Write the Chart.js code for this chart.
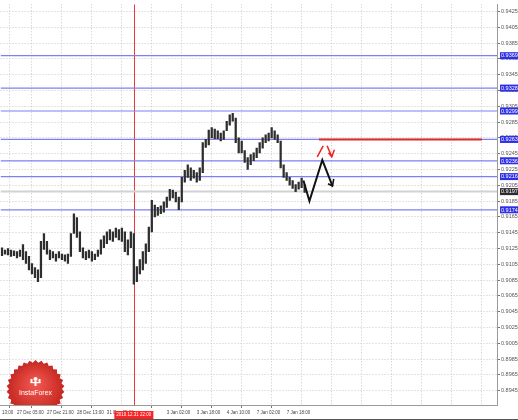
<!DOCTYPE html>
<html><head><meta charset="utf-8">
<script src="https://cdn.jsdelivr.net/npm/chart.js@4"></script>
<style>html,body{margin:0;padding:0;background:#fff;}#wrap{width:518px;height:420px;position:relative;}</style>
</head><body><div id="wrap"><canvas id="c" width="518" height="420"></canvas></div>
<script>
// ---- data ----
const HIGHS = [0.9126,0.9123,0.9125,0.9123,0.9122,0.9121,0.9123,0.9130,0.9121,0.9115,
0.9106,0.9101,0.9098,0.9134,0.9144,0.9134,0.9123,0.9121,0.9118,0.9121,
0.9118,0.9117,0.9118,0.9144,0.9169,0.9164,0.9146,0.9126,0.9121,0.9123,
0.9121,0.9118,0.9123,0.9136,0.9141,0.9146,0.9149,0.9146,0.9151,0.9149,
0.9151,0.9146,0.9136,0.9146,0.9144,0.9102,0.9111,0.9121,0.9131,0.9152,
0.9186,0.9180,0.9177,0.9179,0.9184,0.9190,0.9200,0.9199,0.9196,0.9190,
0.9215,0.9224,0.9231,0.9227,0.9224,0.9221,0.9227,0.9259,0.9263,0.9275,
0.9278,0.9276,0.9274,0.9271,0.9274,0.9286,0.9294,0.9296,0.9290,0.9265,
0.9261,0.9249,0.9240,0.9244,0.9246,0.9252,0.9259,0.9265,0.9269,0.9271,
0.9278,0.9274,0.9269,0.9261,0.9231,0.9221,0.9215,0.9211,0.9206,0.9209,
0.9214,0.9206];
const LOWS = [0.9116,0.9118,0.9117,0.9115,0.9116,0.9113,0.9115,0.9111,0.9106,0.9098,
0.9093,0.9088,0.9083,0.9088,0.9124,0.9118,0.9111,0.9113,0.9109,0.9113,
0.9111,0.9109,0.9106,0.9115,0.9144,0.9139,0.9121,0.9113,0.9111,0.9113,
0.9109,0.9111,0.9115,0.9118,0.9126,0.9131,0.9136,0.9134,0.9139,0.9136,
0.9134,0.9121,0.9117,0.9126,0.9080,0.9083,0.9093,0.9098,0.9106,0.9121,
0.9146,0.9165,0.9167,0.9169,0.9171,0.9177,0.9186,0.9189,0.9184,0.9174,
0.9184,0.9209,0.9215,0.9211,0.9214,0.9209,0.9211,0.9221,0.9253,0.9256,
0.9265,0.9264,0.9264,0.9261,0.9263,0.9274,0.9281,0.9286,0.9259,0.9246,
0.9246,0.9234,0.9225,0.9231,0.9236,0.9240,0.9246,0.9252,0.9259,0.9261,
0.9265,0.9263,0.9259,0.9227,0.9215,0.9211,0.9205,0.9201,0.9197,0.9200,
0.9202,0.9196];

const Y_TICKS = [0.9425,0.9405,0.9385,0.9365,0.9345,0.9325,0.9305,0.9285,0.9265,0.9245,
0.9225,0.9205,0.9185,0.9165,0.9145,0.9125,0.9105,0.9085,0.9065,0.9045,0.9025,0.9005,0.8985,0.8965,0.8945];
const X_TICK_INDEX = [0,5,15,25,35,55,65,75,85,95];
const X_TICK_LABELS = ['13:00','27 Dec 05:00','27 Dec 21:00','28 Dec 13:00','31 Dec 05:00','3 Jan 02:00','3 Jan 18:00','4 Jan 10:00','7 Jan 02:00','7 Jan 18:00'];
const X_GRID = [0,5,15,25,35,45,55,65,75,85,95,105,115,125,135,145,155];

const LEVELS = [0.9369,0.9328,0.9299,0.9263,0.9236,0.9216,0.9174];
const CURRENT_PRICE = 0.9197;
const SEPARATOR_INDEX = 44;
const SEPARATOR_LABEL = '2010.12.31 22:00';

const RED_LEVEL = 0.9263;
const RED_LEVEL_X = [105.8,160.2];

const BLACK_PATH_X = [100.6,102.6,106.9,110.3];
const BLACK_PATH_Y = [0.9211,0.9185,0.9237,0.9204];
const BLACK_HEAD_X = [108.8,110.3,110.7];
const BLACK_HEAD_Y = [0.9207,0.9204,0.9213];

const RED_UP_X = [105.2,107.2];
const RED_UP_Y = [0.9241,0.9255];
const RED_DOWN_X = [108.5,110.07];
const RED_DOWN_Y = [0.9255,0.9241];
const RED_HEAD_X = [108.93,110.07,110.93];
const RED_HEAD_Y = [0.9246,0.9241,0.9250];

const X_MIN = -0.5, X_MAX = 165.2, Y_MIN = 0.8927, Y_MAX = 0.9434;

// ---- build datasets ----
const pts = (xs, ys) => xs.map((x,i)=>({x:x, y:ys[i]}));
const lineDs = (data, color, width, order) => ({type:'line', data, borderColor:color, borderWidth:width,
  pointRadius:0, tension:0, fill:false, order});

const datasets = [];
LEVELS.forEach(v => datasets.push(lineDs([{x:X_MIN,y:v},{x:X_MAX,y:v}], '#7f7ff2', 1.2, 5)));
datasets.push(lineDs([{x:X_MIN,y:CURRENT_PRICE},{x:X_MAX,y:CURRENT_PRICE}], '#d2d2d2', 2, 6));
datasets.push({type:'bar', data: HIGHS.map((h,i)=>({x:i, y:[LOWS[i],h]})), backgroundColor:'#2e2e2e',
  borderWidth:0, barThickness:1.6, order:3});
datasets.push(lineDs(pts(RED_LEVEL_X,[RED_LEVEL,RED_LEVEL]), '#e02828', 2, 2));
datasets.push(lineDs(pts(BLACK_PATH_X,BLACK_PATH_Y), '#111', 2, 1));
datasets.push(lineDs(pts(BLACK_HEAD_X,BLACK_HEAD_Y), '#111', 1.6, 1));
datasets.push(lineDs(pts(RED_UP_X,RED_UP_Y), '#ee2222', 1.5, 1));
datasets.push(lineDs(pts(RED_DOWN_X,RED_DOWN_Y), '#ee2222', 1.5, 1));
datasets.push(lineDs(pts(RED_HEAD_X,RED_HEAD_Y), '#ee2222', 1.5, 1));

const FONT = 'Liberation Sans';

const extras = {
  id:'extras',
  beforeDatasetsDraw(chart){
    const {ctx, chartArea:a, scales:{x}} = chart;
    ctx.save();
    ctx.beginPath(); ctx.rect(a.left,a.top,a.right-a.left,a.bottom-a.top); ctx.clip();
    const sx = Math.round(x.getPixelForValue(SEPARATOR_INDEX))+0.5;
    ctx.strokeStyle='#e83a3a'; ctx.lineWidth=1;
    ctx.beginPath(); ctx.moveTo(sx,a.top); ctx.lineTo(sx,a.bottom); ctx.stroke();
    const cx=a.left+35, cy=a.bottom-16, R=29, r=26.5, n=30;
    ctx.beginPath();
    for(let k=0;k<2*n;k++){const ang=Math.PI*k/n-Math.PI/2;const rr=k%2?r:R;ctx.lineTo(cx+rr*Math.cos(ang),cy+rr*Math.sin(ang));}
    ctx.closePath();
    const g=ctx.createRadialGradient(cx,cy-6,3,cx,cy,R);
    g.addColorStop(0,'#f0554c'); g.addColorStop(1,'#c42520');
    ctx.fillStyle=g; ctx.fill();
    ctx.fillStyle='#fff';
    ctx.font='7px "'+FONT+'"'; ctx.textAlign='center'; ctx.textBaseline='middle';
    ctx.fillText('InstaForex', cx, cy+4);
    ctx.beginPath(); ctx.arc(cx,cy-10,2,0,Math.PI*2); ctx.fill();
    ctx.fillRect(cx-1,cy-8,2,5);
    ctx.fillRect(cx-5,cy-10,2,4); ctx.fillRect(cx+3,cy-10,2,4);
    ctx.fillRect(cx-5,cy-7,10,1.2);
    ctx.restore();
  },
  afterDraw(chart){
    const {ctx, chartArea:a, scales:{x,y}} = chart;
    ctx.save();
    const sx = x.getPixelForValue(SEPARATOR_INDEX);
    ctx.font='4.5px "'+FONT+'"';
    const w = ctx.measureText(SEPARATOR_LABEL).width+4;
    ctx.fillStyle='#ff2020'; ctx.fillRect(sx-w/2, a.bottom+6, w, 8);
    ctx.fillStyle='#fff'; ctx.textAlign='center'; ctx.textBaseline='middle';
    ctx.fillText(SEPARATOR_LABEL, sx, a.bottom+10.2);
    ctx.font='5.5px "'+FONT+'"'; ctx.textAlign='left';
    const tag=(v,bg)=>{const py=y.getPixelForValue(v);ctx.fillStyle=bg;ctx.fillRect(a.right+3,py-3.5,18,7);
      ctx.fillStyle='#fff';ctx.fillText(v.toFixed(4),a.right+4,py+0.3);};
    LEVELS.forEach(v=>tag(v,'#2f2fe6'));
    tag(CURRENT_PRICE,'#2a2a30');
    ctx.fillStyle='#555'; ctx.fillRect(0,chart.height-1,chart.width,1);
    ctx.restore();
  }
};

new Chart(document.getElementById('c'), {
  type:'bar',
  data:{datasets},
  options:{
    responsive:false, animation:false, devicePixelRatio:1,
    layout:{padding:0},
    plugins:{legend:{display:false}, tooltip:{enabled:false}},
    scales:{
      x:{type:'linear', position:'bottom', min:X_MIN, max:X_MAX, offset:false,
        afterBuildTicks(s){ s.ticks = X_GRID.map(v=>({value:v})); },
        afterFit(s){ s.height = 15; },
        grid:{color:c=>c.tick&&c.tick.value===0?'rgba(0,0,0,0)':'#c8c8c8', lineWidth:1, tickLength:3,
          tickColor:c=>c.tick&&X_TICK_INDEX.indexOf(c.tick.value)>=0?'#777':'rgba(0,0,0,0)'},
        border:{display:true, color:'#9a9a9a', width:1, dash:[1,2]},
        ticks:{autoSkip:false, maxRotation:0, minRotation:0, align:'start', padding:2,
          font:{size:4.5, family:FONT}, color:'#444',
          callback(v){ const k=X_TICK_INDEX.indexOf(v); return k>=0?X_TICK_LABELS[k]:''; }}
      },
      y:{type:'linear', position:'right', min:Y_MIN, max:Y_MAX,
        afterBuildTicks(s){ s.ticks = Y_TICKS.map(v=>({value:v})); },
        afterFit(s){ s.width = 21; },
        grid:{color:'#c8c8c8', lineWidth:1, tickLength:3, tickColor:'#777'},
        border:{display:true, color:'#9a9a9a', width:1, dash:[1,2]},
        ticks:{padding:1, font:{size:5.5, family:FONT}, color:'#555', callback:v=>v.toFixed(4)}
      }
    }
  },
  plugins:[extras]
});
</script></body></html>
